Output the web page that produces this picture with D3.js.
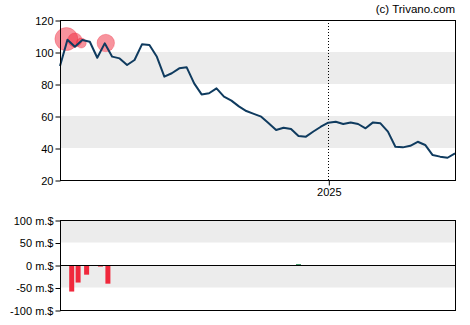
<!DOCTYPE html>
<html>
<head>
<meta charset="utf-8">
<script src="https://cdn.jsdelivr.net/npm/d3@7"></script>
<style>
  body { margin: 0; background: #fff; }
  svg { display: block; font-family: Arial, "Liberation Sans", sans-serif; }
</style>
</head>
<body>
<div id="chart"></div>
<script>
// weekly closing prices
var startDate = "2024-04-24";
var prices = [91.3, 107.7, 103.3, 107.5, 106.4, 96.4, 105.4, 97.1, 96, 91.9,
  95, 104.8, 104.4, 97, 84.6, 86.7, 89.8, 90.4, 80.4, 73.5,
  74.2, 77.3, 72.1, 69.6, 66, 63.1, 61.3, 59.6, 55.5, 51.3,
  52.7, 51.9, 47.5, 47.1, 50.3, 53.3, 55.8, 56.4, 55, 56,
  55, 52.3, 56, 55.4, 50.2, 40.8, 40.4, 41.4, 43.9, 41.9,
  35.6, 34.6, 33.9, 36.7];

// insider trades (circles on price chart)
var tradeDates = ["2024-04-30", "2024-05-08", "2024-05-14", "2024-06-06"];
var tradePrices = [108.1, 107.5, 105.6, 105.6];
var tradeAmounts = [59, 22, 11, 34];

// net insider flow (m.$)
var flowDates = ["2024-05-05", "2024-05-11", "2024-05-19", "2024-06-01", "2024-06-08", "2024-12-04"];
var flowValues = [-59, -39, -21.5, -3.5, -41.5, 2];

var priceTicks = [20, 40, 60, 80, 100, 120];
var flowTicks = [-100, -50, 0, 50, 100];
var yearTicks = ["2025-01-01"];

var width = 470, height = 325;
var left = 60, right = 455;
var top1 = 20, bottom1 = 180;
var top2 = 220, bottom2 = 310;

var parse = d3.timeParse("%Y-%m-%d");
var start = parse(startDate);
var data = prices.map(function(p, i) {
  return { date: d3.timeDay.offset(start, 7 * i), value: p };
});

var svg = d3.select("#chart").append("svg")
  .attr("width", width)
  .attr("height", height);

var x = d3.scaleTime()
  .domain(d3.extent(data, d => d.date))
  .range([left, right]);

var y = d3.scaleLinear().domain([20, 120]).range([bottom1, top1]);
var y2 = d3.scaleLinear().domain([-100, 100]).range([bottom2, top2]);

// shaded bands
[[80, 100], [40, 60]].forEach(function(b) {
  svg.append("rect")
    .attr("x", left).attr("width", right - left)
    .attr("y", y(b[1])).attr("height", y(b[0]) - y(b[1]))
    .attr("fill", "#ececec");
});
[[50, 100], [-50, 0]].forEach(function(b) {
  svg.append("rect")
    .attr("x", left).attr("width", right - left)
    .attr("y", y2(b[1])).attr("height", y2(b[0]) - y2(b[1]))
    .attr("fill", "#ececec");
});

// year marker
yearTicks.forEach(function(t) {
  var xx = Math.round(x(parse(t))) + 0.5;
  svg.append("line")
    .attr("x1", xx).attr("x2", xx)
    .attr("y1", top1).attr("y2", bottom1)
    .attr("stroke", "#000")
    .attr("stroke-width", 1)
    .attr("stroke-dasharray", "1,2");
});

// insider circles
var r = d3.scaleSqrt().domain([0, 59]).range([0, 11.5]);
svg.selectAll("circle.trade")
  .data(tradeDates)
  .enter()
  .append("circle")
  .attr("class", "trade")
  .attr("cx", d => x(parse(d)))
  .attr("cy", (d, i) => y(tradePrices[i]))
  .attr("r", (d, i) => r(tradeAmounts[i]))
  .attr("fill", "#f0283c")
  .attr("fill-opacity", 0.5)
  .attr("stroke", "#f0283c")
  .attr("stroke-opacity", 0.3);

// price line
var line = d3.line()
  .x(d => x(d.date))
  .y(d => y(d.value));

svg.append("path")
  .datum(data)
  .attr("d", line)
  .attr("fill", "none")
  .attr("stroke", "#0f3b5f")
  .attr("stroke-width", 2)
  .attr("stroke-linejoin", "round");

// flow bars
svg.selectAll("rect.flow")
  .data(flowDates)
  .enter()
  .append("rect")
  .attr("class", "flow")
  .attr("x", d => x(parse(d)) - 2.5)
  .attr("width", 5)
  .attr("y", (d, i) => flowValues[i] < 0 ? y2(0) : y2(flowValues[i]))
  .attr("height", (d, i) => Math.abs(y2(flowValues[i]) - y2(0)))
  .attr("fill", (d, i) => flowValues[i] < 0 ? "#f0283c" : "#2e8b57");

// frames
function frame(t, b) {
  svg.append("rect")
    .attr("x", left + 0.5).attr("y", t + 0.5)
    .attr("width", right - left).attr("height", b - t)
    .attr("fill", "none")
    .attr("stroke", "#000")
    .attr("stroke-width", 1);
}
frame(top1, bottom1);
frame(top2, bottom2);

svg.append("line")
  .attr("x1", left).attr("x2", right + 0.5)
  .attr("y1", y2(0) + 0.5).attr("y2", y2(0) + 0.5)
  .attr("stroke", "#000");

// axes
var yAxis = d3.axisLeft(y)
  .tickValues(priceTicks)
  .tickSize(5)
  .tickPadding(2)
  .tickFormat(d3.format("d"));
var gy = svg.append("g")
  .attr("transform", `translate(${left + 0.5},0.5)`)
  .call(yAxis);

var y2Axis = d3.axisLeft(y2)
  .tickValues(flowTicks)
  .tickSize(5)
  .tickPadding(2)
  .tickFormat(d => d + " m.$");
var gy2 = svg.append("g")
  .attr("transform", `translate(${left + 0.5},0.5)`)
  .call(y2Axis);

var xAxis = d3.axisBottom(x)
  .tickValues(yearTicks.map(parse))
  .tickSize(5)
  .tickPadding(3)
  .tickFormat(d3.timeFormat("%Y"));
var gx = svg.append("g")
  .attr("transform", `translate(0.5,${bottom1 + 0.5})`)
  .call(xAxis);

[gy, gy2, gx].forEach(function(g) {
  g.select(".domain").remove();
  g.selectAll("text")
    .attr("fill", "#000")
    .style("font-size", "11px")
    .style("font-family", "Arial, 'Liberation Sans', sans-serif");
  g.selectAll("line").attr("stroke", "#000");
});

svg.append("text")
  .attr("x", right)
  .attr("y", 13)
  .attr("text-anchor", "end")
  .style("font-size", "11.5px")
  .attr("fill", "#000")
  .text("(c) Trivano.com");
</script>
</body>
</html>
